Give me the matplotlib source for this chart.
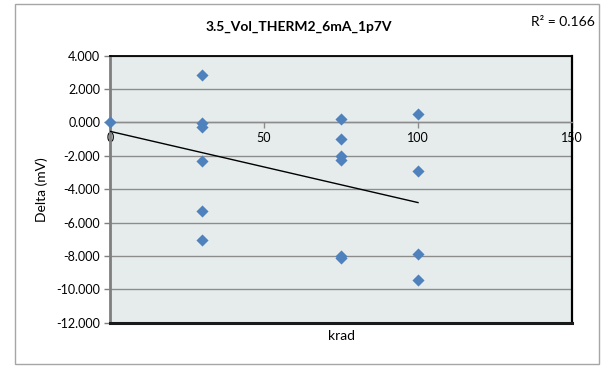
import numpy as np
import matplotlib
matplotlib.use("Agg")
from matplotlib import pyplot as plt
from matplotlib.patches import Rectangle

plt.rcParams['font.family'] = ['Lato', 'DejaVu Sans']

# Data (krad, delta in mV)
krad = [0, 30, 30, 30, 30, 30, 30, 75, 75, 75, 75, 75, 75, 100, 100, 100, 100]
delta = [0.0, 2.85, -0.05, -0.25, -2.33, -5.28, -7.02,
         0.22, -0.98, -2.0, -2.22, -8.02, -8.15,
         0.5, -2.93, -7.9, -9.45]
title = "3.5_Vol_THERM2_6mA_1p7V"
r2_text = "R\u00b2 = 0.166"
yticks = np.arange(-12, 5, 2)
xticks = [0, 50, 100, 150]

fig = plt.figure(figsize=(6.02, 3.67), dpi=100)
ax = fig.add_axes([0.1827, 0.1207, 0.7675, 0.7275])
ax.set_facecolor('#E6ECEC')

# linear trendline over the data range
k, b = np.polyfit(krad, delta, 1)
xt = np.array([min(krad), max(krad)])
ax.plot(xt, k * xt + b, color='black', lw=1, zorder=3)

ax.scatter(krad, delta, marker='D', s=38, color='#4F81BD', zorder=4,
           clip_on=False, linewidths=0)

ax.set_xlim(0, 150)
ax.set_ylim(-12, 4)
ax.set_yticks(yticks)
ax.set_yticklabels(['%.3f' % v for v in yticks])
ax.set_xticks(xticks)
ax.yaxis.grid(True, color='#8C8C8C', lw=1)
ax.set_axisbelow(True)
ax.tick_params(axis='y', direction='out', length=4, width=1, color='#7F7F7F',
               labelsize=9, pad=3)
ax.tick_params(axis='x', direction='out', length=4, width=1, color='#8C8C8C',
               labelsize=9, pad=3)

for side, c, w in [('top', 'black', 1.3), ('right', 'black', 1.6),
                   ('left', '#7F7F7F', 2.0)]:
    ax.spines[side].set_color(c)
    ax.spines[side].set_linewidth(w)

# x axis crosses at y = 0, plot area border at the bottom
ax.spines['bottom'].set_position(('data', 0))
ax.spines['bottom'].set_color('#8C8C8C')
ax.spines['bottom'].set_linewidth(1)
ax.axhline(-12, color='#1A1A1A', lw=2.2, clip_on=False, zorder=5)

fig.text(0.567, 0.085, 'krad', ha='center', va='center', fontsize=10)
ax.set_ylabel('Delta (mV)', fontsize=10, labelpad=6)

fig.text(0.497, 0.926, title, ha='center', va='center', fontsize=10,
         fontweight='bold')
fig.text(0.988, 0.94, r2_text, ha='right', va='center', fontsize=10)

fig.patches.append(Rectangle((0.0249, 0.0082), 0.970, 0.981,
                             transform=fig.transFigure, fill=False,
                             edgecolor='#A6A6A6', lw=1))

fig.savefig('out.png', dpi=100)
